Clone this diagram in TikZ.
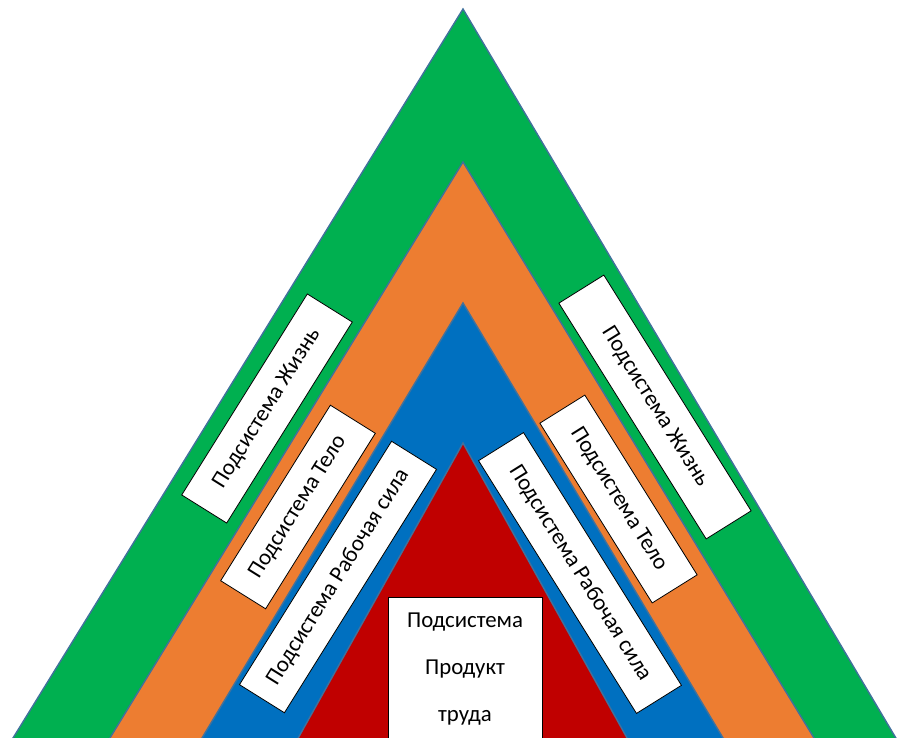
\documentclass[tikz,border=0pt]{standalone}
\usepackage{fontspec}
\setmainfont{Carlito}
\definecolor{zhizn}{RGB}{0,176,80}
\definecolor{telo}{RGB}{237,125,49}
\definecolor{sila}{RGB}{0,112,192}
\definecolor{produkt}{RGB}{192,0,0}
\definecolor{kontur}{RGB}{65,113,156}
\begin{document}
\begin{tikzpicture}[x=1pt,y=-1pt,
		layer/.style={draw=kontur,line width=1.4pt},
		sysbox/.style={draw=black,fill=white,line width=0.8pt,inner sep=0pt,minimum height=53pt,
			font=\fontsize{22.8}{27}\selectfont}]
	\useasboundingbox (0,0) rectangle (904,738);
	\clip (0,0) rectangle (904,738);
	% nested layers
	\filldraw[layer,fill=zhizn] (463,9) -- (5.6,750) -- (903,750) -- cycle;
	\filldraw[layer,fill=telo] (463,162) -- (102.6,750) -- (821.3,750) -- cycle;
	\filldraw[layer,fill=sila] (463,303) -- (194.8,750) -- (730.2,750) -- cycle;
	\filldraw[layer,fill=produkt] (463,443) -- (291.5,750) -- (633.7,750) -- cycle;
	% left labels
	\node[sysbox,rotate=58,minimum width=237pt] (zhiznL) at (267,408.5) {Подсистема Жизнь};
	\node[sysbox,rotate=58,minimum width=207pt] (teloL) at (298,507) {Подсистема Тело};
	\node[sysbox,rotate=58,minimum width=287pt] (silaL) at (338,577) {Подсистема Рабочая сила};
	% right labels
	\node[sysbox,rotate=-58,minimum width=278pt] (zhiznR) at (655,407) {Подсистема Жизнь};
	\node[sysbox,rotate=-58,minimum width=212pt] (teloR) at (618.5,499) {Подсистема Тело};
	\node[sysbox,rotate=-58,minimum width=298pt] (silaR) at (580,573) {Подсистема Рабочая сила};
	% centre
	\node[sysbox,anchor=north,minimum width=154pt,inner ysep=15pt,align=center,
		font=\fontsize{22.8}{47}\selectfont] (produktC) at (465,597) {Подсистема\\Продукт\\труда};
\end{tikzpicture}
\end{document}
